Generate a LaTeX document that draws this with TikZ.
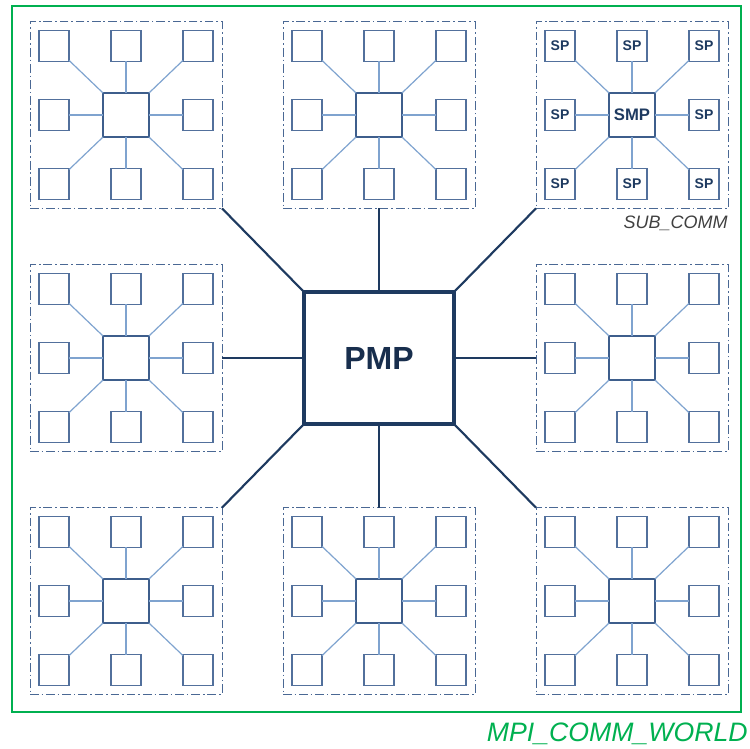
\documentclass[tikz,border=0pt]{standalone}
\usepackage{fontspec}
\setmainfont{Liberation Sans}
\usetikzlibrary{calc}

\definecolor{pmpblue}{HTML}{1E3A60}
\definecolor{hubblue}{HTML}{3E5E8C}
\definecolor{leafblue}{HTML}{52709C}
\definecolor{linkblue}{HTML}{7FA3CF}
\definecolor{dashblue}{HTML}{4A6894}
\definecolor{worldgreen}{HTML}{00B050}

\tikzset{
  pmpbox/.style={draw=pmpblue, line width=2.3pt, fill=white, minimum width=112.5pt,
    minimum height=99pt, inner sep=0pt, outer sep=0pt, text=pmpblue!80!black,
    font=\fontsize{24}{24}\selectfont\bfseries},
  subbox/.style={draw=dashblue, line width=0.7pt, minimum width=144pt, minimum height=140pt,
    inner sep=0pt, outer sep=0pt, dash pattern=on 6.5pt off 2.2pt on 1.2pt off 2.2pt},
  smpbox/.style={draw=hubblue, line width=2.1pt, fill=white, minimum width=34.5pt,
    minimum height=33pt, inner sep=0pt, outer sep=0pt, text=pmpblue,
    font=\fontsize{12.5}{12.5}\selectfont\bfseries},
  spbox/.style={draw=leafblue, line width=0.9pt, fill=white, minimum width=22.5pt,
    minimum height=23pt, inner sep=0pt, outer sep=0pt, text=pmpblue,
    font=\fontsize{10.5}{10.5}\selectfont\bfseries},
  leaflink/.style={draw=linkblue, line width=0.9pt},
  pmplink/.style={draw=pmpblue, line width=1.6pt},
}

% one SMP node with its eight SPs inside a dash-dotted sub-communicator
% #1 name, (#2,#3) centre, #4 hub text, #5 leaf text
\newcommand{\cluster}[5]{%
  \node[subbox] (#1) at (#2,#3) {};
  \foreach \dx/\dy/\k in {-72/-69/1, 0/-69/2, 72/-69/3, -72/0/4, 72/0/5,
                          -72/69/6, 0/69/7, 72/69/8} {
    \node[spbox] (#1-\k) at (#2+\dx,#3+\dy) {#5};
  }
  \node[smpbox] (#1-hub) at (#2,#3) {#4};
  \foreach \k in {1,...,8} {
    \draw[leaflink] (#1-hub) -- (#1-\k);
  }
}

\begin{document}
\begin{tikzpicture}[x=0.75pt, y=-0.75pt]
  \useasboundingbox (0,0) rectangle (750,749);

  % MPI_COMM_WORLD
  \draw[worldgreen, line width=2.2pt] (12,6) rectangle (741,712);
  \node[anchor=base east, text=worldgreen, inner sep=0pt,
        font=\fontsize{20}{20}\selectfont\itshape] (world) at (748,741) {MPI\_COMM\_WORLD};

  % sub-communicators
  \cluster{nw}{126}{115}{}{}
  \cluster{n}{379}{115}{}{}
  \cluster{ne}{632}{115}{SMP}{SP}
  \cluster{w}{126}{358}{}{}
  \cluster{e}{632}{358}{}{}
  \cluster{sw}{126}{601}{}{}
  \cluster{s}{379}{601}{}{}
  \cluster{se}{632}{601}{}{}

  \node[anchor=north east, inner sep=0pt, yshift=-5.5pt, text=black!75,
        font=\fontsize{13.5}{13.5}\selectfont\itshape] (sublabel) at (ne.south east) {SUB\_COMM};

  % central PMP and its links
  \node[pmpbox] (pmp) at (379,358) {PMP};
  \draw[pmplink] (pmp.north west) -- (nw.south east);
  \draw[pmplink] (pmp.north) -- (n.south);
  \draw[pmplink] (pmp.north east) -- (ne.south west);
  \draw[pmplink] (pmp.west) -- (w.east);
  \draw[pmplink] (pmp.east) -- (e.west);
  \draw[pmplink] (pmp.south west) -- (sw.north east);
  \draw[pmplink] (pmp.south) -- (s.north);
  \draw[pmplink] (pmp.south east) -- (se.north west);
\end{tikzpicture}
\end{document}
